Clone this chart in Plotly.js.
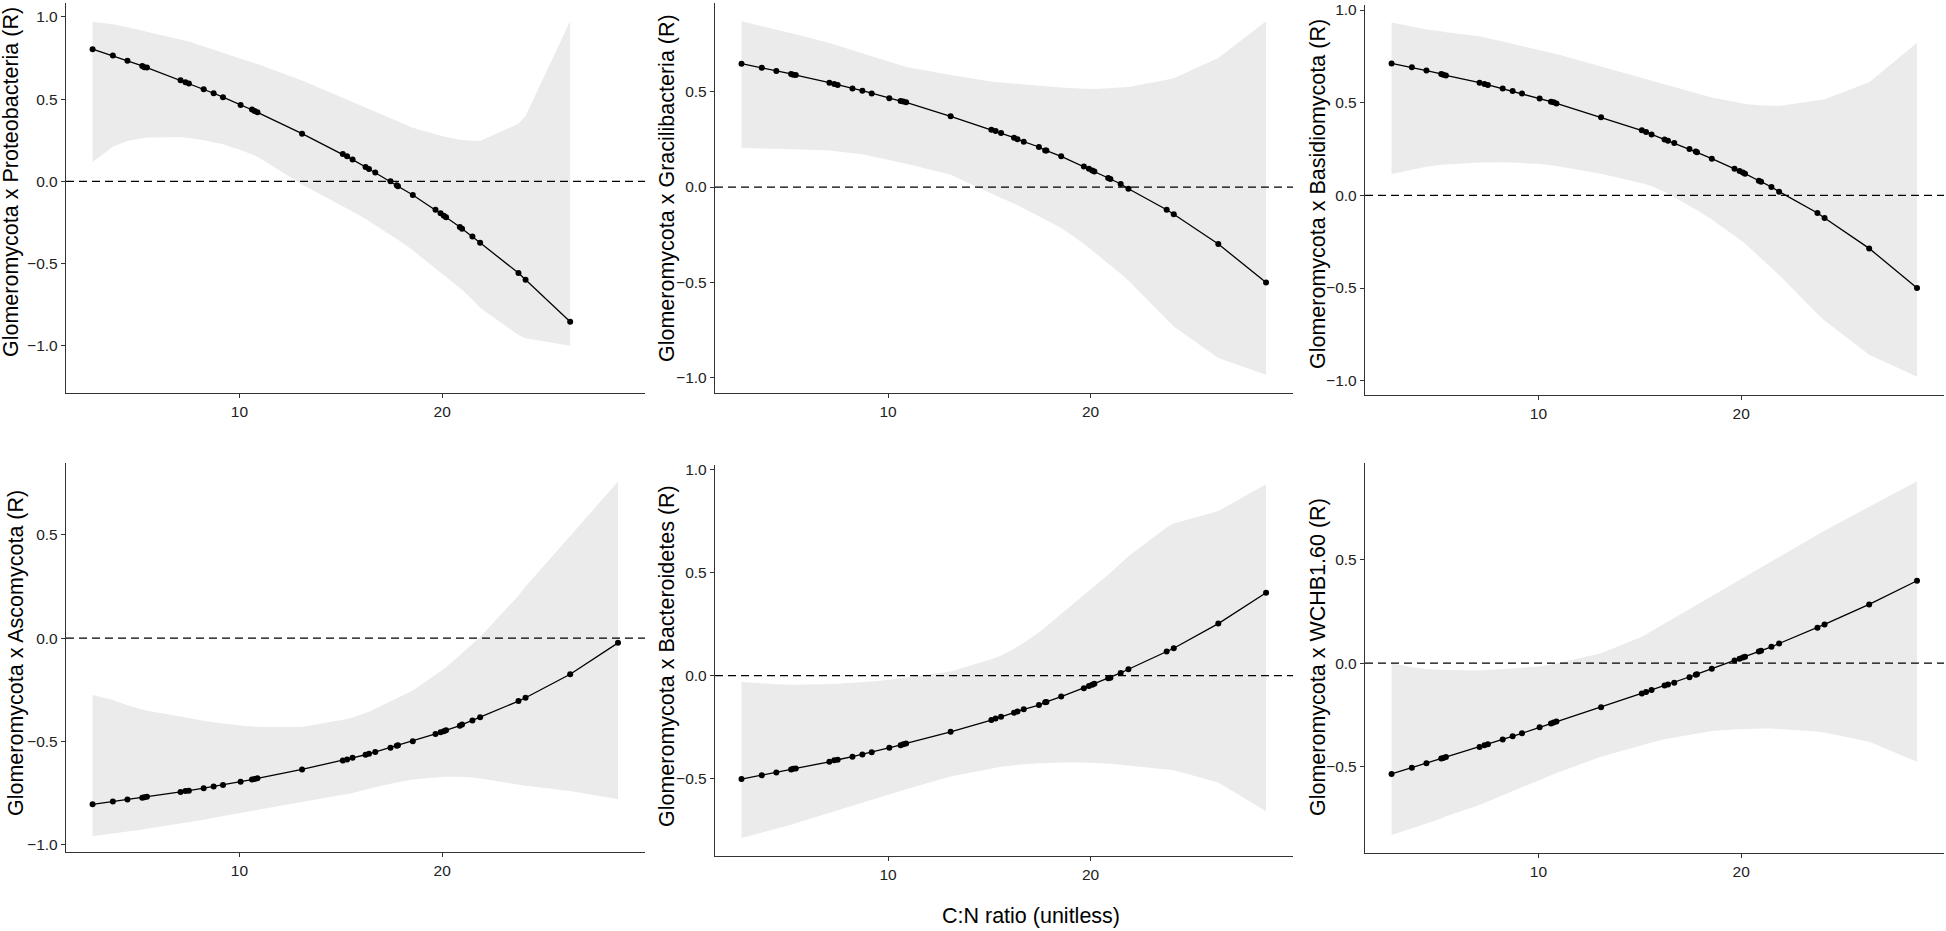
<!DOCTYPE html>
<html>
<head>
<meta charset="utf-8">
<script src="https://cdn.plot.ly/plotly-3.0.1.min.js"></script>
<style>html,body{margin:0;padding:0;background:#fff;}#chart{width:1946px;height:931px;}</style>
</head>
<body>
<div id="chart"></div>
<script>
// ---- data ----
const cn_ratio = [2.76, 3.76, 4.48, 5.21, 5.31, 5.44, 7.10, 7.34, 7.51, 8.24, 8.73, 9.19, 10.06, 10.62, 10.75, 10.89, 13.09,
  15.10, 15.31, 15.58, 16.22, 16.39, 16.70, 17.45, 17.76, 17.82, 18.55, 19.67, 19.92, 20.08, 20.19, 20.87, 20.98,
  21.49, 21.87, 23.76, 24.11, 26.31, 28.67];

const panel_titles = ["Glomeromycota x Proteobacteria (R)", "Glomeromycota x Gracilibacteria (R)",
  "Glomeromycota x Basidiomycota (R)", "Glomeromycota x Ascomycota (R)",
  "Glomeromycota x Bacteroidetes (R)", "Glomeromycota x WCHB1.60 (R)"];
const x_title = "C:N ratio (unitless)";
const x_tick_vals = [10, 20];

// Proteobacteria (no value at the last C:N ratio)
const proteo_R = [0.804, 0.765, 0.733, 0.702, 0.694, 0.692, 0.615, 0.603, 0.595, 0.560, 0.536, 0.512, 0.465, 0.437, 0.428, 0.420, 0.290,
  0.166, 0.152, 0.132, 0.087, 0.075, 0.053, 0.000, -0.024, -0.030, -0.083, -0.173, -0.195, -0.209, -0.219, -0.278, -0.288,
  -0.335, -0.374, -0.558, -0.599, -0.855];
const proteo_hi = [0.971, 0.955, 0.938, 0.918, 0.915, 0.911, 0.862, 0.855, 0.850, 0.822, 0.803, 0.782, 0.746, 0.725, 0.720, 0.714, 0.613,
  0.507, 0.496, 0.481, 0.448, 0.438, 0.420, 0.382, 0.367, 0.364, 0.326, 0.286, 0.278, 0.273, 0.270, 0.253, 0.251,
  0.247, 0.246, 0.350, 0.398, 0.975];
const proteo_lo = [0.118, 0.210, 0.245, 0.262, 0.264, 0.266, 0.268, 0.266, 0.264, 0.250, 0.238, 0.225, 0.190, 0.165, 0.158, 0.150, -0.020,
  -0.152, -0.165, -0.183, -0.230, -0.243, -0.266, -0.325, -0.350, -0.355, -0.420, -0.530, -0.555, -0.570, -0.580, -0.650, -0.660,
  -0.720, -0.770, -0.935, -0.955, -1.000];

// Gracilibacteria
const graci_R = [0.647, 0.626, 0.608, 0.593, 0.589, 0.587, 0.547, 0.540, 0.535, 0.517, 0.505, 0.491, 0.465, 0.451, 0.448, 0.444, 0.371,
  0.301, 0.294, 0.283, 0.259, 0.250, 0.238, 0.210, 0.192, 0.191, 0.161, 0.108, 0.096, 0.087, 0.082, 0.047, 0.042,
  0.016, -0.009, -0.119, -0.143, -0.299, -0.500];
const graci_hi = [0.869, 0.844, 0.825, 0.807, 0.804, 0.801, 0.755, 0.747, 0.741, 0.716, 0.700, 0.684, 0.655, 0.636, 0.632, 0.630, 0.588,
  0.552, 0.550, 0.548, 0.542, 0.541, 0.538, 0.532, 0.529, 0.529, 0.522, 0.516, 0.515, 0.514, 0.514, 0.518, 0.519,
  0.522, 0.524, 0.563, 0.571, 0.677, 0.869];
const graci_lo = [0.205, 0.203, 0.201, 0.199, 0.199, 0.198, 0.192, 0.189, 0.186, 0.178, 0.172, 0.162, 0.142, 0.128, 0.126, 0.122, 0.065,
  -0.035, -0.045, -0.058, -0.086, -0.095, -0.112, -0.150, -0.170, -0.174, -0.215, -0.297, -0.318, -0.332, -0.342, -0.398, -0.408,
  -0.455, -0.490, -0.690, -0.731, -0.897, -0.984];

// Basidiomycota
const basid_R = [0.712, 0.691, 0.673, 0.655, 0.651, 0.647, 0.608, 0.601, 0.595, 0.576, 0.563, 0.549, 0.522, 0.505, 0.502, 0.496, 0.421,
  0.351, 0.342, 0.329, 0.302, 0.295, 0.282, 0.250, 0.236, 0.232, 0.198, 0.144, 0.131, 0.124, 0.117, 0.079, 0.074,
  0.045, 0.020, -0.095, -0.122, -0.286, -0.500];
const basid_hi = [0.932, 0.910, 0.895, 0.885, 0.883, 0.880, 0.858, 0.852, 0.848, 0.831, 0.819, 0.808, 0.787, 0.770, 0.766, 0.762, 0.695,
  0.633, 0.627, 0.618, 0.599, 0.594, 0.584, 0.561, 0.552, 0.550, 0.528, 0.505, 0.499, 0.496, 0.493, 0.486, 0.485,
  0.483, 0.482, 0.512, 0.518, 0.610, 0.824];
const basid_lo = [0.115, 0.140, 0.155, 0.165, 0.166, 0.167, 0.177, 0.178, 0.178, 0.178, 0.177, 0.175, 0.169, 0.163, 0.161, 0.158, 0.117,
  0.067, 0.060, 0.050, 0.020, 0.010, -0.010, -0.055, -0.075, -0.080, -0.130, -0.215, -0.235, -0.250, -0.260, -0.330, -0.340,
  -0.390, -0.430, -0.640, -0.675, -0.860, -0.978];

// Ascomycota
const asco_R = [-0.805, -0.792, -0.782, -0.773, -0.771, -0.769, -0.745, -0.740, -0.739, -0.727, -0.719, -0.711, -0.696, -0.685, -0.682, -0.679, -0.636,
  -0.593, -0.588, -0.580, -0.565, -0.560, -0.552, -0.531, -0.521, -0.519, -0.500, -0.464, -0.456, -0.451, -0.446, -0.424, -0.419,
  -0.399, -0.383, -0.305, -0.289, -0.175, -0.023];
const asco_hi = [-0.276, -0.300, -0.325, -0.345, -0.348, -0.352, -0.380, -0.385, -0.388, -0.400, -0.408, -0.414, -0.423, -0.428, -0.429, -0.430, -0.430,
  -0.398, -0.392, -0.384, -0.363, -0.357, -0.342, -0.307, -0.290, -0.287, -0.254, -0.177, -0.160, -0.149, -0.141, -0.083, -0.073,
  -0.030, 0.005, 0.205, 0.250, 0.495, 0.758];
const asco_lo = [-0.960, -0.948, -0.938, -0.928, -0.926, -0.924, -0.900, -0.895, -0.892, -0.880, -0.870, -0.862, -0.850, -0.840, -0.837, -0.834, -0.795,
  -0.760, -0.755, -0.750, -0.735, -0.730, -0.722, -0.705, -0.700, -0.698, -0.685, -0.675, -0.673, -0.672, -0.672, -0.672, -0.672,
  -0.675, -0.680, -0.710, -0.715, -0.740, -0.780];

// Bacteroidetes
const bacte_R = [-0.503, -0.485, -0.471, -0.456, -0.453, -0.451, -0.419, -0.412, -0.409, -0.394, -0.383, -0.372, -0.351, -0.338, -0.334, -0.330, -0.273,
  -0.216, -0.209, -0.200, -0.180, -0.175, -0.164, -0.143, -0.130, -0.128, -0.102, -0.062, -0.050, -0.044, -0.039, -0.013, -0.010,
  0.013, 0.031, 0.117, 0.133, 0.253, 0.403];
const bacte_hi = [-0.031, -0.038, -0.042, -0.044, -0.044, -0.044, -0.042, -0.041, -0.040, -0.036, -0.033, -0.029, -0.020, -0.012, -0.010, -0.008, 0.020,
  0.080, 0.088, 0.098, 0.130, 0.140, 0.160, 0.210, 0.235, 0.240, 0.300, 0.390, 0.410, 0.425, 0.435, 0.490, 0.500,
  0.545, 0.580, 0.720, 0.740, 0.800, 0.930];
const bacte_lo = [-0.790, -0.765, -0.745, -0.725, -0.722, -0.718, -0.670, -0.663, -0.658, -0.635, -0.620, -0.605, -0.577, -0.560, -0.556, -0.552, -0.490,
  -0.450, -0.447, -0.443, -0.436, -0.434, -0.431, -0.426, -0.424, -0.424, -0.422, -0.422, -0.423, -0.423, -0.424, -0.428, -0.429,
  -0.433, -0.437, -0.455, -0.460, -0.520, -0.660];

// WCHB1.60
const wchb_R = [-0.535, -0.505, -0.484, -0.461, -0.458, -0.453, -0.405, -0.397, -0.392, -0.369, -0.353, -0.339, -0.310, -0.292, -0.287, -0.282, -0.213,
  -0.147, -0.139, -0.129, -0.108, -0.103, -0.094, -0.068, -0.056, -0.053, -0.027, 0.013, 0.021, 0.027, 0.031, 0.056, 0.060,
  0.079, 0.095, 0.171, 0.187, 0.284, 0.398];
const wchb_hi = [0.000, -0.020, -0.028, -0.032, -0.033, -0.033, -0.035, -0.034, -0.033, -0.029, -0.026, -0.022, -0.016, -0.008, -0.005, -0.002, 0.048,
  0.128, 0.140, 0.155, 0.190, 0.200, 0.218, 0.262, 0.280, 0.284, 0.325, 0.388, 0.402, 0.412, 0.418, 0.457, 0.463,
  0.492, 0.514, 0.620, 0.640, 0.756, 0.879];
const wchb_lo = [-0.830, -0.800, -0.775, -0.750, -0.745, -0.740, -0.685, -0.675, -0.668, -0.640, -0.620, -0.600, -0.565, -0.540, -0.535, -0.530, -0.452,
  -0.395, -0.390, -0.383, -0.368, -0.365, -0.358, -0.345, -0.340, -0.339, -0.328, -0.320, -0.319, -0.318, -0.318, -0.315, -0.315,
  -0.316, -0.318, -0.330, -0.335, -0.380, -0.476];

const series = [
  {R: proteo_R, hi: proteo_hi, lo: proteo_lo},
  {R: graci_R, hi: graci_hi, lo: graci_lo},
  {R: basid_R, hi: basid_hi, lo: basid_lo},
  {R: asco_R, hi: asco_hi, lo: asco_lo},
  {R: bacte_R, hi: bacte_hi, lo: bacte_lo},
  {R: wchb_R, hi: wchb_hi, lo: wchb_lo}
];

// ---- layout geometry (pixels) ----
const W = 1946, H = 931;
const boxes = [
  {x0: 66, x1: 645, y0: 3, y1: 393, yr: [-1.288, 1.085], tx: 11, ty: 182},
  {x0: 715, x1: 1293, y0: 3, y1: 393, yr: [-1.080, 0.965], tx: 667, ty: 188},
  {x0: 1365, x1: 1944, y0: 5, y1: 395, yr: [-1.077, 1.027], tx: 1318, ty: 194},
  {x0: 66, x1: 645, y0: 463, y1: 852, yr: [-1.036, 0.848], tx: 16, ty: 653},
  {x0: 715, x1: 1293, y0: 465, y1: 856, yr: [-0.877, 1.024], tx: 667, ty: 656},
  {x0: 1365, x1: 1944, y0: 463, y1: 853, yr: [-0.917, 0.967], tx: 1318, ty: 657}
];
const xRange = [1.45, 30.0];
const FONT = "Liberation Sans, Arial, Helvetica, sans-serif";

const traces = [];
const layout = {
  width: W, height: H,
  margin: {l: 0, r: 0, t: 0, b: 0},
  paper_bgcolor: "#ffffff", plot_bgcolor: "#ffffff",
  showlegend: false,
  font: {family: FONT},
  shapes: [], annotations: []
};

series.forEach((s, i) => {
  const n = i + 1;
  const xa = n === 1 ? "x" : "x" + n;
  const ya = n === 1 ? "y" : "y" + n;
  const b = boxes[i];
  const xs = cn_ratio.slice(0, s.R.length);
  traces.push({x: xs, y: s.lo, xaxis: xa, yaxis: ya, type: "scatter", mode: "lines",
    line: {width: 0, color: "rgba(0,0,0,0)"}, hoverinfo: "skip"});
  traces.push({x: xs, y: s.hi, xaxis: xa, yaxis: ya, type: "scatter", mode: "lines",
    line: {width: 0, color: "rgba(0,0,0,0)"}, fill: "tonexty", fillcolor: "#ebebeb", hoverinfo: "skip"});
  traces.push({x: xs, y: s.R, xaxis: xa, yaxis: ya, type: "scatter", mode: "lines+markers",
    line: {color: "#000000", width: 1.3}, marker: {color: "#000000", size: 6}});

  const axCommon = {
    showline: true, linecolor: "#333333", linewidth: 1.2,
    ticks: "outside", ticklen: 4, tickwidth: 1, tickcolor: "#333333",
    showgrid: false, zeroline: false,
    tickfont: {family: FONT, size: 15.5, color: "#222222"}
  };
  layout["xaxis" + (n === 1 ? "" : n)] = Object.assign({}, axCommon, {
    domain: [b.x0 / W, b.x1 / W], range: xRange, anchor: ya,
    tickmode: "array", tickvals: x_tick_vals
  });
  layout["yaxis" + (n === 1 ? "" : n)] = Object.assign({}, axCommon, {
    domain: [1 - b.y1 / H, 1 - b.y0 / H], range: b.yr, anchor: xa,
    tickmode: "linear", tick0: 0, dtick: 0.5, tickformat: ".1f"
  });
  layout.shapes.push({type: "line", xref: xa + " domain", yref: ya, x0: 0, x1: 1, y0: 0, y1: 0,
    line: {color: "#000000", width: 1.2, dash: "8px,5px"}, layer: "above"});
  layout.annotations.push({text: panel_titles[i], xref: "paper", yref: "paper",
    x: b.tx / W, y: 1 - b.ty / H, xanchor: "center", yanchor: "middle",
    textangle: -90, showarrow: false, font: {family: FONT, size: 21.5, color: "#000000"}});
});

layout.annotations.push({text: x_title, xref: "paper", yref: "paper",
  x: 1031 / W, y: 1 - 916 / H, xanchor: "center", yanchor: "middle", showarrow: false,
  font: {family: FONT, size: 21.5, color: "#000000"}});

Plotly.newPlot("chart", traces, layout, {displayModeBar: false, staticPlot: true});
</script>
</body>
</html>
